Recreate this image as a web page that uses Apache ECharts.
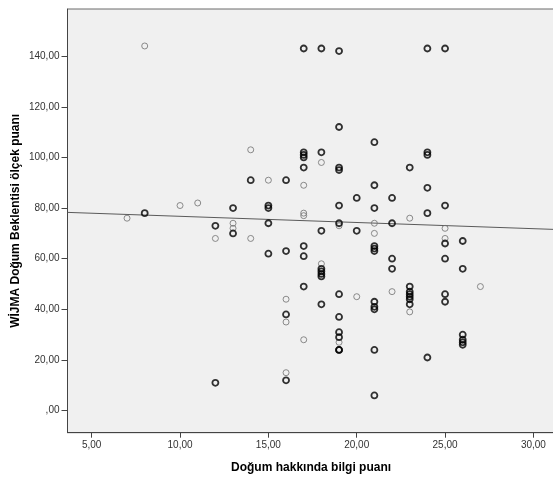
<!DOCTYPE html>
<html>
<head>
<meta charset="utf-8">
<script src="https://cdn.jsdelivr.net/npm/echarts@6/dist/echarts.min.js"></script>
<style>
html,body{margin:0;padding:0;background:#fff;}
#chart{width:553px;height:479px;}
</style>
</head>
<body>
<div id="chart"></div>
<script>
// Data (x = knowledge score, y = W-DEQ score, n = overlapping cases)
const xs = [7, 8, 8, 10, 11, 12, 12, 12, 13, 13, 13, 13, 14, 14, 14, 15, 15, 15, 15, 15,
  16, 16, 16, 16, 16, 16, 16,
  17, 17, 17, 17, 17, 17, 17, 17, 17, 17, 17, 17,
  18, 18, 18, 18, 18, 18, 18, 18, 18, 18,
  19, 19, 19, 19, 19, 19, 19, 19, 19, 19, 19, 19, 19, 19,
  20, 20, 20,
  21, 21, 21, 21, 21, 21, 21, 21, 21, 21, 21, 21, 21,
  22, 22, 22, 22, 22,
  23, 23, 23, 23, 23, 23, 23, 23, 23,
  24, 24, 24, 24, 24, 24,
  25, 25, 25, 25, 25, 25, 25, 25,
  26, 26, 26, 26, 26, 26,
  27];
const ys = [76, 144, 78, 81, 82, 73, 68, 11, 80, 74, 72, 70, 103, 91, 68, 91, 81, 80, 74, 62,
  91, 63, 44, 38, 35, 15, 12,
  143, 102, 101, 100, 96, 89, 78, 77, 65, 61, 49, 28,
  143, 102, 98, 71, 58, 56, 55, 54, 53, 42,
  142, 112, 96, 95, 81, 74, 73, 46, 37, 31, 29, 27, 24, 24,
  84, 71, 45,
  106, 89, 80, 74, 70, 65, 64, 63, 43, 41, 40, 24, 6,
  84, 74, 60, 56, 47,
  96, 76, 49, 47, 46, 45, 44, 42, 39,
  143, 102, 101, 88, 78, 21,
  143, 81, 72, 68, 66, 60, 46, 43,
  67, 56, 30, 28, 27, 26,
  49];
const ns = [1, 1, 2, 1, 1, 2, 1, 2, 2, 1, 1, 2, 1, 2, 1, 1, 2, 2, 2, 2,
  2, 2, 1, 2, 1, 1, 2,
  2, 2, 2, 2, 2, 1, 1, 1, 2, 2, 2, 1,
  2, 2, 1, 2, 1, 2, 2, 2, 2, 2,
  2, 2, 2, 2, 2, 2, 1, 2, 2, 2, 2, 1, 2, 2,
  2, 2, 1,
  2, 2, 2, 1, 1, 2, 2, 2, 2, 2, 2, 2, 2,
  2, 2, 2, 2, 1,
  2, 1, 2, 2, 2, 2, 2, 2, 1,
  2, 2, 2, 2, 2, 2,
  2, 2, 1, 1, 2, 2, 2, 2,
  2, 2, 2, 2, 2, 2,
  1];
// Linear fit line
const fitIntercept = 79.18;
const fitSlope = -0.244;
// Axis ticks
const xTicks = [5, 10, 15, 20, 25, 30];
const yTicks = [0, 20, 40, 60, 80, 100, 120, 140];
const xRange = [3.63, 31.2];
const yRange = [-8.7, 158.6];
const xTitle = 'Doğum hakkında bilgi puanı';
const yTitle = 'WİJMA Doğum Beklentisi ölçek puanı';

const single = [], multiple = [];
for (let i = 0; i < xs.length; i++) {
  (ns[i] > 1 ? multiple : single).push([xs[i], ys[i]]);
}
const fitLine = xRange.map(x => [x, fitIntercept + fitSlope * x]);

function fmt(v) {
  let s = Math.abs(v).toFixed(2).replace('.', ',');
  if (s.startsWith('0,')) s = s.slice(1);
  return (v < 0 ? '-' : '') + s;
}

const font = 'Liberation Sans, Arial, sans-serif';
const chart = echarts.init(document.getElementById('chart'), null, {renderer: 'canvas'});
chart.setOption({
  animation: false,
  backgroundColor: '#ffffff',
  grid: {
    left: 67.5, right: -1.6, top: 9, bottom: 46.3,
    containLabel: false, outerBoundsMode: 'none',
    show: true, backgroundColor: '#f0f0f0', borderColor: '#6a6a6a', borderWidth: 1
  },
  xAxis: {
    type: 'value', min: xRange[0], max: xRange[1],
    name: xTitle, nameLocation: 'middle', nameGap: 29, nameMoveOverlap: false,
    nameTextStyle: {fontFamily: font, fontSize: 12, fontWeight: 'bold', color: '#000'},
    axisLine: {show: true, onZero: false, lineStyle: {color: '#444', width: 1}},
    axisTick: {show: true, customValues: xTicks, length: 5, lineStyle: {color: '#444'}},
    axisLabel: {customValues: xTicks, formatter: fmt, fontFamily: font, fontSize: 10, color: '#333', margin: 8},
    splitLine: {show: false}
  },
  yAxis: {
    type: 'value', min: yRange[0], max: yRange[1],
    name: yTitle, nameLocation: 'middle', nameGap: 46, nameRotate: 90, nameMoveOverlap: false,
    nameTextStyle: {fontFamily: font, fontSize: 12, fontWeight: 'bold', color: '#000'},
    axisLine: {show: true, onZero: false, lineStyle: {color: '#444', width: 1}},
    axisTick: {show: true, customValues: yTicks, length: 6, lineStyle: {color: '#444'}},
    axisLabel: {customValues: yTicks, formatter: fmt, fontFamily: font, fontSize: 10, color: '#333', margin: 8},
    splitLine: {show: false}
  },
  series: [
    {
      type: 'line', data: fitLine, symbol: 'none', silent: true,
      lineStyle: {color: '#5a5a5a', width: 1}, z: 1
    },
    {
      type: 'scatter', data: single, symbol: 'circle', symbolSize: 6, silent: true,
      itemStyle: {color: 'rgba(0,0,0,0)', borderColor: '#707070', borderWidth: 1}, z: 2
    },
    {
      type: 'scatter', data: multiple, symbol: 'circle', symbolSize: 6, silent: true,
      itemStyle: {color: 'rgba(0,0,0,0)', borderColor: '#000', borderWidth: 1.8}, z: 3
    }
  ]
});
</script>
</body>
</html>
